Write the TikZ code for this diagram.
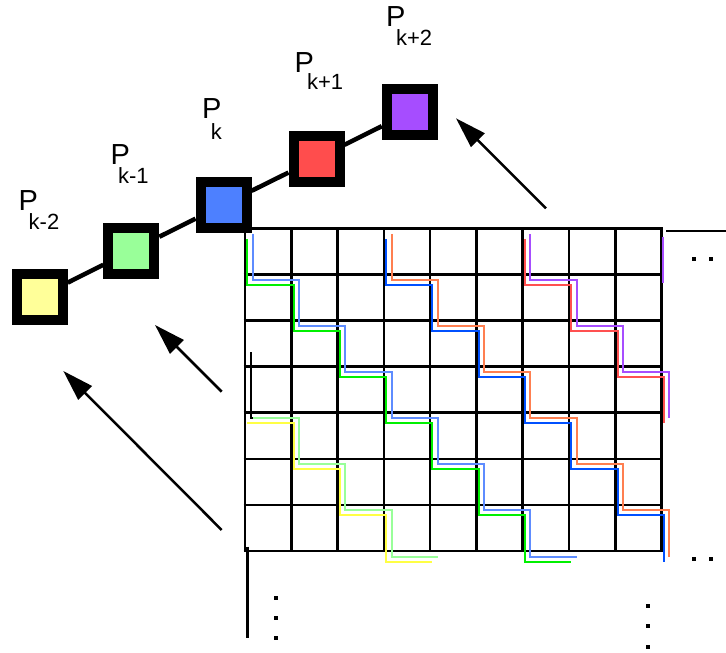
\documentclass[tikz,border=0pt]{standalone}
\usepackage{fontspec}
\setmainfont{Liberation Sans}
\usetikzlibrary{arrows.meta}

\definecolor{sqyellow}{HTML}{FFFF99}
\definecolor{sqgreen}{HTML}{99FF99}
\definecolor{sqblue}{HTML}{4D80FF}
\definecolor{sqred}{HTML}{FF4D4D}
\definecolor{sqpurple}{HTML}{A64DFF}
\definecolor{lnyellow}{HTML}{FFFF44}
\definecolor{lnlightgreen}{HTML}{99FF99}
\definecolor{lngreen}{HTML}{00F000}
\definecolor{lnlightblue}{HTML}{5E8CFF}
\definecolor{lnblue}{HTML}{0050FF}
\definecolor{lncoral}{HTML}{FF7F50}
\definecolor{lnred}{HTML}{FF5050}
\definecolor{lnpurple}{HTML}{A64DFF}

% grid column / row positions
\newcommand\gx[1]{(245+46.28*(#1))}
\newcommand\gy[1]{(228.3+46.1*(#1))}
% offsets of the two lines of a pair
\def\dkx{2.3}\def\dky{10.5}
\def\ltx{7.7}\def\lty{5.5}

% staircase: steps #5..#6 of a band starting in column #4, each step down then across
\newcommand\stairs[7]{%
  \draw[#1] ({\gx{#4+#5}+#2},{\gy{#5}+#3})
    \foreach \j in {#5,...,#6}{ -- ({\gx{#4+\j}+#2},{\gy{\j+1}+#3}) -- ({\gx{#4+\j+1}+#2},{\gy{\j+1}+#3}) } #7;
}
% processor name: P with a lowered index tucked under it
\newcommand\procname[3]{P\kern#1pt\raisebox{-#2pt}{\fontsize{22}{22}\selectfont #3}}

\begin{document}
\begin{tikzpicture}[x=1pt,y=-1pt,
  proc/.style={rectangle, draw=black, line width=10pt, minimum size=46pt, inner sep=0pt},
  link/.style={line width=4.5pt},
  gridln/.style={line width=2.6pt},
  stair/.style={line width=2pt},
  pointer/.style={line width=2.5pt, -{Triangle[length=31pt,width=19pt]}},
  plabel/.style={inner sep=0pt, anchor=base west, font=\fontsize{29}{29}\selectfont},
]
\useasboundingbox (0,0) rectangle (726,653);

% ---- grid ----
\foreach \i in {0,...,9}
  \draw[gridln] ({\gx{\i}},{\gy{0}-1.3}) -- ({\gx{\i}},{\gy{7}+1.3});
\foreach \j in {0,...,7}
  \draw[gridln] ({\gx{0}-1.3},{\gy{\j}}) -- ({\gx{9}+1.3},{\gy{\j}});

% continuation marks
\draw[gridln] (666,231) -- (726,231);
\draw[gridln] (247.7,546.7) -- (247.7,638.3);
\foreach \x in {694,711,728} {
  \fill (\x-2,257) rectangle (\x+2,261);
  \fill (\x-2,557.3) rectangle (\x+2,561.3);
}
\foreach \y in {597.7,618.3,638.3}
  \fill (273.7,\y-2) rectangle (277.7,\y+2);
\foreach \y in {605.7,625.7,646.7}
  \fill (646.3,\y-2) rectangle (650.3,\y+2);

% ---- staircase bands ----
% band starting in column 0
\stairs{stair,lngreen}{\dkx}{\dky}{0}{0}{6}{}
\stairs{stair,lnlightblue}{\ltx}{\lty}{0}{0}{6}{}
% band starting in column 3
\stairs{stair,lnblue}{\dkx}{\dky}{3}{0}{5}{-- ({\gx{9}+\dkx},{\gy{7}+\dky})}
\stairs{stair,lncoral}{\ltx}{\lty}{3}{0}{5}{-- ({\gx{9}+\ltx},{\gy{7}+\lty})}
% band starting in column 6
\stairs{stair,lnred}{\dkx}{\dky}{6}{0}{2}{-- ({\gx{9}+\dkx},{\gy{4}+\dky})}
\stairs{stair,lnpurple}{\ltx}{\lty}{6}{0}{2}{-- ({\gx{9}+\ltx},{\gy{4}+\lty})}
% band entering from the left at row 4
\draw[stair,lnyellow] ({\gx{0}+\dkx},{\gy{4}+\dky})
  \foreach \j in {4,5,6}{ -- ({\gx{\j-3}+\dkx},{\gy{\j}+\dky}) -- ({\gx{\j-3}+\dkx},{\gy{\j+1}+\dky}) }
  -- ({\gx{4}+\dkx},{\gy{7}+\dky});
\draw[stair,lnlightgreen] ({\gx{0}+\ltx},{\gy{4}+\lty})
  \foreach \j in {4,5,6}{ -- ({\gx{\j-3}+\ltx},{\gy{\j}+\lty}) -- ({\gx{\j-3}+\ltx},{\gy{\j+1}+\lty}) }
  -- ({\gx{4}+\ltx},{\gy{7}+\lty});
\draw[stair,black] (250.7,352) -- (250.7,{\gy{4}+\lty}) -- ({\gx{0}+\ltx},{\gy{4}+\lty});
% band starting in column 9
\draw[stair,lnpurple] ({\gx{9}+1.6},236.7) -- ({\gx{9}+1.6},282.7);

% ---- processors ----
\node[proc, fill=sqyellow] (p1) at (39.7,296.7) {};
\node[proc, fill=sqgreen]  (p2) at (131.3,250.7) {};
\node[proc, fill=sqblue]   (p3) at (223.5,204.7) {};
\node[proc, fill=sqred]    (p4) at (316.5,158.7) {};
\node[proc, fill=sqpurple] (p5) at (409.8,112.3) {};
\draw[link] (p1) -- (p2);
\draw[link] (p2) -- (p3);
\draw[link] (p3) -- (p4);
\draw[link] (p4) -- (p5);

% labels
\node[plabel] (l1) at (18.4,210.7) {\procname{-9.2}{18.6}{k-2}};
\node[plabel] (l2) at (110.4,164.3) {\procname{-11.9}{19.6}{k-1}};
\node[plabel] (l3) at (202,118.3) {\procname{-10.6}{20.8}{k}};
\node[plabel] (l4) at (294.4,72.7) {\procname{-6.9}{17}{k+1}};
\node[plabel] (l5) at (386,26.7) {\procname{-9.5}{18.3}{k+2}};

% ---- arrows ----
\coordinate (a1s) at (546,208.3);
\coordinate (a1e) at (456,118.3);
\coordinate (a2s) at (221.7,391.7);
\coordinate (a2e) at (155,325);
\coordinate (a3s) at (221.7,530);
\coordinate (a3e) at (63.3,371);
\draw[pointer] (a1s) -- (a1e);
\draw[pointer] (a2s) -- (a2e);
\draw[pointer] (a3s) -- (a3e);
\end{tikzpicture}
\end{document}
